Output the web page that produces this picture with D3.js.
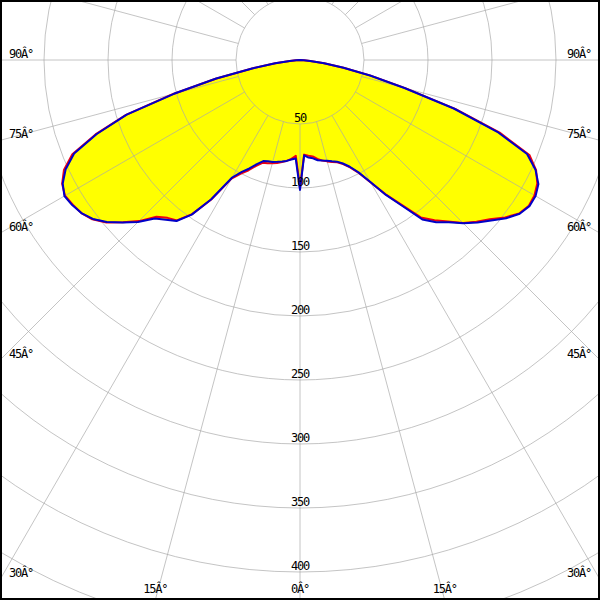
<!DOCTYPE html>
<html><head><meta charset="utf-8">
<script src="https://cdn.jsdelivr.net/npm/d3@7/dist/d3.min.js"></script>
<style>body{margin:0;background:#fff}svg{display:block}</style></head>
<body><svg id="c" width="600" height="600"></svg>
<script>
// gamma angles (degrees, 0 = straight down, negative = left half)
const angles = [-90,-87.5,-85,-82.5,-80,-77.5,-75,-72.5,-70,-67.5,-65,-62.5,-60,-57.5,-55,-52.5,-50,-47.5,-45,-42.5,-40,-37.5,-35,-32.5,-30,-27.5,-25,-22.5,-20,-17.5,-15,-12.5,-10,-7.5,-5,-2.5,
  0,
  2.5,5,7.5,10,12.5,15,17.5,20,22.5,25,27.5,30,32.5,35,37.5,40,42.5,45,47.5,50,52.5,55,57.5,60,62.5,65,67.5,70,72.5,75,77.5,80,82.5,85,87.5,90];
// blue curve intensities
const blueValues = [0,3,8,19.5,38,67,102,142,169,191,202,209,212.5,211,208.5,204,197,188,179,168,163,158.5,147.5,129,106,98.5,93.5,88,84,83,82.5,81.5,80.5,79.5,78,77,
  101.5,
  74.5,76.5,77.5,79.5,80.5,81.5,83,84.5,87.5,92,99,110,125,139,157,165.5,172,180.5,188,195,203,209.5,212.5,212.5,210,203,192,164,126,84.5,56,34.5,19,8,3,0];
// red curve intensities
const redValues = [0,3,8,19.5,38,67.5,102.5,142.5,170,192.5,203.5,209.5,212,210.5,208.5,204.5,197.5,187.5,178,166,161,158,147,129.5,107,100,95,89.5,85.5,84.5,83.5,82.5,81,79.5,77.5,75,
  100,
  74,75,76,78.5,80.5,82,83.5,85,88,92.5,99.5,110.5,124.5,138,155,163.5,171,180,187,193.5,202,209,212,211.5,209,203.5,194,166,127.5,85,56.5,34.5,19,8,3,0];
const ringValues = [50,100,150,200,250,300,350,400,450];
const ringLabels = ["50","100","150","200","250","300","350","400"];
const spokeAngles = [0,15,30,45,60,75,90,105,120,135,150,165,180,195,210,225,240,255,270,285,300,315,330,345];
const angleLabels = [0,15,30,45,60,75,90];

const W = 600, H = 600, cx = 300, cy = 60;
const svg = d3.select("#c");
const r = d3.scaleLinear().domain([0, 400]).range([0, 512]);
const toRad = d => d * Math.PI / 180;

svg.append("rect").attr("width", W).attr("height", H).attr("fill", "#fff");
svg.append("defs").append("clipPath").attr("id", "clip")
  .append("rect").attr("x", 2).attr("y", 2).attr("width", W - 4).attr("height", H - 4);

const g = svg.append("g").attr("clip-path", "url(#clip)");
const plot = g.append("g").attr("transform", `translate(${cx},${cy})`);

const radial = d3.lineRadial()
  .angle(d => Math.PI - toRad(d[0]))
  .radius(d => r(d[1]));

const blueData = angles.map((a, i) => [a, blueValues[i]]);
const redData = angles.map((a, i) => [a, redValues[i]]);

// fills
plot.append("path").attr("d", radial(redData) + "Z").attr("fill", "#ffff00");
plot.append("path").attr("d", radial(blueData) + "Z").attr("fill", "#ffff00");

// grid
const grid = plot.append("g").attr("stroke", "#a8a8a8").attr("stroke-opacity", 0.68).attr("fill", "none").attr("stroke-width", 1);
grid.selectAll("circle").data(ringValues).join("circle")
  .attr("r", d => r(d));
grid.selectAll("line").data(spokeAngles).join("line")
  .attr("x1", d => r(50) * Math.sin(toRad(d)))
  .attr("y1", d => r(50) * Math.cos(toRad(d)))
  .attr("x2", d => 1000 * Math.sin(toRad(d)))
  .attr("y2", d => 1000 * Math.cos(toRad(d)));

// labels
const font = "'DejaVu Sans Mono', 'Liberation Mono', monospace";
const txt = g.append("g").attr("font-family", font).attr("font-size", 12)
  .attr("letter-spacing", "-1.2px").attr("fill", "#000");

txt.selectAll("text.ring").data(ringLabels).join("text")
  .attr("class", "ring")
  .attr("x", cx)
  .attr("y", d => cy + r(+d) - 2)
  .attr("text-anchor", "middle")
  .text(d => d);

const aLab = [];
angleLabels.forEach(a => {
  const sides = a === 0 ? [1] : [-1, 1];
  sides.forEach(s => {
    const sa = Math.sin(toRad(a)), ca = Math.cos(toRad(a));
    const tx = sa > 1e-9 ? (W - cx) / sa : Infinity;
    const ty = ca > 1e-9 ? (H - cy) / ca : Infinity;
    const label = a + "\u00C2\u00B0";
    if (ty <= tx) {
      aLab.push({x: cx + s * (H - cy) * Math.tan(toRad(a)), y: 592.5, anchor: "middle", label});
    } else {
      const yy = cy + (W - cx) * ca / sa;
      aLab.push({x: s < 0 ? 9 : 591, y: yy - 2.5, anchor: s < 0 ? "start" : "end", label});
    }
  });
});
txt.selectAll("text.ang").data(aLab).join("text")
  .attr("class", "ang")
  .attr("x", d => d.x).attr("y", d => d.y)
  .attr("text-anchor", d => d.anchor)
  .text(d => d.label);

// curves
plot.append("path").attr("d", radial(redData)).attr("fill", "none")
  .attr("stroke", "#f00010").attr("stroke-width", 2).attr("stroke-linejoin", "round");
plot.append("path").attr("d", radial(blueData)).attr("fill", "none")
  .attr("stroke", "#0000c8").attr("stroke-width", 2).attr("stroke-linejoin", "round");

// frame
svg.append("rect").attr("x", 1).attr("y", 1).attr("width", W - 2).attr("height", H - 2)
  .attr("fill", "none").attr("stroke", "#000").attr("stroke-width", 2);
</script></body></html>
